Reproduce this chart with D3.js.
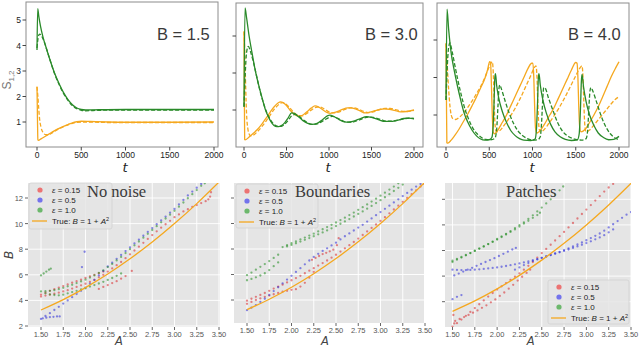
<!DOCTYPE html>
<html>
<head>
<meta charset="utf-8">
<script src="https://cdn.jsdelivr.net/npm/d3@7"></script>
<style>
  body { margin: 0; background: #fff; }
  svg { font-family: "Liberation Sans", Arial, sans-serif; }
</style>
</head>
<body>
<svg id="chart" width="640" height="347"></svg>
<script>
// ---- time series (top row), [t, S] ----
const timeTicks = [0, 500, 1000, 1500, 2000];

const b15GreenSolid = [[0,3.82],[8,5.45],[20,5.15],[40,4.75],[70,4.3],[100,3.95],[150,3.4],[200,2.9],[250,2.5],[300,2.15],[350,1.88],[400,1.68],[450,1.55],[500,1.49],[550,1.47],[700,1.48],[1000,1.49],[1500,1.49],[2000,1.49]];
const b15GreenDash  = [[0,3.9],[15,4.35],[30,4.45],[50,4.38],[70,4.25],[100,3.95],[150,3.4],[200,2.88],[250,2.47],[300,2.12],[350,1.85],[400,1.64],[450,1.52],[500,1.46],[550,1.44],[700,1.46],[1000,1.47],[1500,1.47],[2000,1.47]];
const b15OrangeSolid = [[0,2.38],[5,1.2],[10,0.3],[15,0.28],[50,0.35],[100,0.45],[150,0.56],[200,0.66],[250,0.75],[300,0.83],[350,0.9],[400,0.97],[450,1.01],[500,1.03],[600,1.02],[800,1.0],[1000,0.99],[1500,0.99],[2000,1.0]];
const b15OrangeDash  = [[0,2.38],[10,2.0],[20,1.5],[30,1.1],[45,0.8],[70,0.58],[100,0.5],[130,0.5],[170,0.57],[200,0.64],[250,0.74],[300,0.82],[350,0.89],[400,0.95],[450,0.99],[500,1.0],[600,1.0],[800,0.98],[1000,0.98],[1500,0.98],[2000,0.98]];

const b30GreenSolid = [[0,1.09],[12,3.76],[30,3.5],[60,3.0],[90,2.6],[130,2.1],[170,1.7],[210,1.35],[250,1.02],[290,0.8],[330,0.64],[370,0.56],[405,0.55],[440,0.58],[480,0.66],[520,0.79],[560,0.92],[590,0.91],[630,0.84],[690,0.72],[750,0.64],[800,0.61],[860,0.64],[920,0.73],[980,0.84],[1010,0.86],[1060,0.82],[1120,0.74],[1180,0.68],[1230,0.67],[1290,0.7],[1370,0.77],[1440,0.82],[1500,0.8],[1580,0.74],[1660,0.69],[1720,0.69],[1800,0.72],[1880,0.77],[1940,0.78],[2000,0.76]];
const b30GreenDash  = [[0,1.09],[15,2.0],[30,2.55],[50,2.72],[80,2.55],[110,2.3],[150,1.9],[190,1.5],[230,1.18],[270,0.92],[310,0.74],[350,0.62],[400,0.56],[440,0.56],[480,0.62],[520,0.72],[560,0.84],[600,0.88],[640,0.84],[700,0.73],[760,0.64],[820,0.61],[880,0.64],[940,0.72],[1000,0.8],[1040,0.83],[1090,0.79],[1150,0.72],[1210,0.67],[1270,0.67],[1330,0.71],[1400,0.77],[1460,0.81],[1520,0.8],[1600,0.75],[1680,0.7],[1740,0.7],[1820,0.73],[1900,0.77],[1960,0.78],[2000,0.77]];
const b30OrangeSolid = [[0,3.12],[4,1.5],[8,0.2],[12,0.19],[60,0.27],[110,0.37],[160,0.48],[210,0.62],[260,0.78],[310,0.95],[360,1.1],[400,1.19],[430,1.22],[460,1.2],[500,1.12],[540,1.0],[590,0.89],[630,0.84],[680,0.85],[740,0.95],[790,1.05],[835,1.11],[880,1.08],[930,1.0],[980,0.93],[1015,0.91],[1080,0.94],[1150,1.01],[1220,1.06],[1260,1.06],[1310,1.03],[1370,0.97],[1425,0.92],[1480,0.94],[1540,0.98],[1610,1.02],[1650,1.03],[1710,1.02],[1770,0.99],[1840,0.95],[1910,0.96],[2000,1.0]];
const b30OrangeDash  = [[0,3.12],[10,2.5],[20,1.6],[30,0.9],[45,0.5],[60,0.35],[80,0.3],[110,0.32],[160,0.42],[210,0.55],[260,0.7],[310,0.87],[360,1.03],[410,1.15],[450,1.2],[490,1.17],[530,1.08],[580,0.95],[630,0.86],[680,0.84],[740,0.91],[800,1.01],[860,1.08],[900,1.08],[950,1.02],[1000,0.95],[1050,0.92],[1110,0.94],[1180,1.01],[1250,1.06],[1300,1.06],[1350,1.02],[1410,0.96],[1460,0.93],[1520,0.95],[1590,1.01],[1660,1.04],[1720,1.04],[1780,1.01],[1850,0.97],[1920,0.96],[2000,0.99]];

const b40GreenSolid = [[0,1.4],[12,3.82],[30,3.3],[60,2.65],[90,2.25],[130,1.8],[170,1.4],[210,1.05],[250,0.82],[300,0.6],[350,0.45],[400,0.36],[450,0.33],[500,0.34],[530,0.4],[545,0.7],[555,1.3],[565,2.0],[572,2.1],[585,1.8],[610,1.45],[650,1.1],[700,0.8],[750,0.58],[800,0.45],[850,0.37],[900,0.33],[980,0.32],[1030,0.36],[1045,0.6],[1058,1.3],[1068,2.0],[1075,2.1],[1090,1.8],[1120,1.4],[1160,1.05],[1210,0.75],[1260,0.55],[1320,0.42],[1380,0.35],[1450,0.32],[1520,0.34],[1540,0.5],[1555,1.2],[1565,1.9],[1573,2.08],[1590,1.75],[1620,1.35],[1660,1.0],[1710,0.72],[1760,0.52],[1820,0.4],[1880,0.34],[1940,0.35],[2000,0.43]];
const b40GreenDash  = [[0,1.4],[15,2.3],[30,2.8],[45,2.92],[70,2.7],[100,2.35],[140,1.9],[180,1.5],[220,1.15],[260,0.9],[310,0.65],[360,0.5],[410,0.4],[460,0.35],[520,0.34],[565,0.38],[585,0.6],[600,1.2],[612,1.7],[622,1.8],[640,1.7],[680,1.4],[730,1.05],[780,0.78],[830,0.58],[880,0.46],[940,0.37],[1000,0.33],[1060,0.34],[1090,0.42],[1105,0.8],[1118,1.4],[1130,1.73],[1145,1.72],[1185,1.45],[1240,1.1],[1290,0.8],[1350,0.56],[1420,0.42],[1500,0.35],[1570,0.33],[1620,0.37],[1638,0.6],[1652,1.2],[1665,1.65],[1676,1.73],[1695,1.65],[1740,1.35],[1790,1.0],[1840,0.72],[1900,0.5],[1960,0.38],[2000,0.34]];
const b40OrangeSolid = [[0,2.91],[5,1.5],[10,0.26],[20,0.25],[60,0.33],[100,0.45],[150,0.62],[200,0.82],[250,1.02],[300,1.24],[350,1.47],[400,1.72],[450,1.98],[480,2.2],[505,2.42],[515,2.4],[525,1.8],[535,1.0],[545,0.55],[560,0.5],[600,0.6],[650,0.8],[700,1.0],[750,1.25],[800,1.5],[850,1.75],[900,2.0],[950,2.25],[990,2.38],[1005,2.38],[1015,2.0],[1025,1.2],[1035,0.65],[1050,0.52],[1100,0.62],[1150,0.8],[1200,1.0],[1250,1.2],[1300,1.45],[1350,1.7],[1400,1.95],[1450,2.2],[1500,2.4],[1515,2.38],[1525,2.0],[1535,1.2],[1545,0.7],[1560,0.55],[1610,0.62],[1660,0.8],[1710,1.0],[1760,1.22],[1810,1.48],[1860,1.75],[1910,2.02],[1960,2.25],[2000,2.42]];
const b40OrangeDash  = [[0,2.91],[15,2.3],[30,1.7],[45,1.25],[60,1.0],[80,0.9],[110,0.88],[160,0.95],[220,1.1],[280,1.3],[340,1.52],[400,1.76],[450,2.0],[490,2.24],[520,2.38],[535,2.42],[547,2.1],[557,1.3],[567,0.75],[582,0.55],[620,0.58],[680,0.75],[740,0.95],[800,1.18],[860,1.45],[920,1.75],[980,2.05],[1020,2.26],[1040,2.31],[1052,2.0],[1062,1.3],[1072,0.75],[1087,0.55],[1130,0.6],[1190,0.78],[1250,0.98],[1310,1.2],[1370,1.45],[1430,1.72],[1490,2.0],[1545,2.24],[1572,2.31],[1584,2.0],[1594,1.3],[1604,0.75],[1618,0.55],[1660,0.6],[1720,0.76],[1780,0.93],[1840,1.1],[1900,1.27],[1950,1.4],[2000,1.49]];

// ---- inferred relation (bottom row), [A, B] ----
const aTicks = [1.5, 1.75, 2.0, 2.25, 2.5, 2.75, 3.0, 3.25, 3.5];
const bTicks = [2, 4, 6, 8, 10, 12];
const trueA = [1.5, 1.75, 2.0, 2.25, 2.5, 2.75, 3.0, 3.25, 3.5];
const trueB = [3.25, 4.06, 5.0, 6.06, 7.25, 8.56, 10.0, 11.56, 13.25];
const epsLabels = ["0.15", "0.5", "1.0"];

const noNoiseRed = [
  [[1.50,4.45],[1.55,4.6],[1.60,4.75],[1.65,4.88],[1.70,5.0],[1.75,5.12],[1.80,5.25],[1.85,5.38],[1.90,5.5],[1.95,5.62],[2.00,5.75],[2.05,5.88],[2.10,6.0],[2.15,6.12],[2.20,6.25]],
  [[1.50,4.3],[1.55,4.38],[1.60,4.45],[1.65,4.52],[1.70,4.6],[1.75,4.7],[1.80,4.8],[1.85,4.92],[1.90,5.05],[1.95,5.18],[2.00,5.3],[2.05,5.45],[2.10,5.6],[2.15,5.8],[2.20,6.0],[2.25,6.25],[2.30,6.5],[2.35,6.75],[2.40,7.0],[2.45,7.3],[2.50,7.6],[2.55,7.9],[2.60,8.2],[2.65,8.5],[2.70,8.8],[2.75,9.1],[2.80,9.4],[2.85,9.68],[2.90,9.95],[2.95,10.22],[3.00,10.5],[3.05,10.72],[3.10,10.95],[3.15,11.12],[3.20,11.3],[3.25,11.45],[3.30,11.6],[3.35,11.75],[3.38,11.9]],
  [[2.15,4.9],[2.20,5.05],[2.25,5.2],[2.30,5.35],[2.35,5.5],[2.40,5.7],[2.45,5.9]],
  [[2.52,6.3],[3.40,12.1],[3.41,12.45]]
];
const noNoiseBlue = [
  [[1.50,2.55],[1.55,2.78],[1.60,3.0],[1.65,3.25],[1.70,3.5],[1.75,3.75],[1.80,4.0],[1.85,4.25],[1.90,4.5],[1.95,4.75],[2.00,5.0],[2.05,5.3],[2.10,5.6],[2.15,5.95],[2.20,6.3],[2.25,6.65],[2.30,6.95],[2.35,7.25],[2.40,7.55],[2.45,7.85],[2.50,8.15],[2.55,8.45],[2.60,8.75],[2.65,9.05],[2.70,9.35],[2.75,9.65],[2.80,9.95],[2.85,10.25],[2.90,10.55],[2.95,10.85],[3.00,11.15],[3.05,11.5],[3.10,11.85],[3.15,12.2],[3.20,12.5],[3.25,12.8],[3.30,13.1]],
  [[1.52,2.6],[1.56,2.65],[1.60,2.7],[1.64,2.72],[1.68,2.75],[1.71,2.75]],
  [[1.96,6.6],[1.99,7.8]]
];
const noNoiseGreen = [
  [[1.50,5.95],[1.53,6.1],[1.56,6.25],[1.59,6.4],[1.61,6.48]],
  [[1.50,4.7],[1.55,4.72],[1.60,4.75],[1.65,4.8],[1.70,4.88],[1.75,4.98],[1.80,5.1],[1.85,5.22],[1.90,5.35],[1.95,5.48],[2.00,5.62],[2.05,5.78],[2.10,5.95],[2.15,6.15],[2.20,6.35],[2.25,6.6],[2.30,6.85],[2.35,7.12],[2.40,7.4],[2.45,7.7],[2.50,8.0],[2.55,8.3],[2.60,8.6],[2.65,8.9],[2.70,9.2],[2.75,9.5],[2.80,9.8],[2.85,10.1],[2.90,10.4],[2.95,10.7],[3.00,11.0],[3.05,11.32],[3.10,11.65],[3.15,11.98],[3.20,12.3],[3.25,12.62],[3.30,12.95],[3.34,13.15]],
  [[1.55,4.55],[1.60,4.47],[1.65,4.42],[1.70,4.4],[1.75,4.45],[1.80,4.55],[1.85,4.65],[1.90,4.75],[1.95,4.85],[2.00,4.95],[2.05,5.08],[2.10,5.2],[2.15,5.32],[2.20,5.45],[2.25,5.6],[2.30,5.75],[2.35,5.92],[2.40,6.1]]
];

const boundRed = [
  [[1.50,3.95],[1.55,4.1],[1.60,4.25],[1.65,4.4],[1.70,4.55],[1.75,4.72],[1.80,4.9],[1.85,5.05],[1.90,5.2],[1.95,5.38],[2.00,5.55],[2.05,5.72],[2.10,5.9],[2.15,6.1],[2.20,6.3],[2.25,6.5],[2.30,6.7],[2.35,6.9],[2.40,7.1],[2.45,7.32],[2.50,7.55],[2.55,7.8],[2.60,8.05],[2.65,8.3],[2.70,8.55],[2.75,8.82],[2.80,9.1],[2.85,9.38],[2.90,9.65],[2.95,9.92],[3.00,10.2],[3.05,10.5],[3.10,10.8],[3.15,11.1],[3.20,11.4],[3.25,11.7],[3.30,12.0],[3.35,12.3],[3.40,12.6],[3.45,12.9],[3.49,13.1]],
  [[1.50,3.7],[1.55,3.85],[1.60,4.0],[1.65,4.12],[1.70,4.25],[1.75,4.35],[1.80,4.45],[1.85,4.55],[1.90,4.65],[1.95,4.72],[2.00,4.8],[2.05,4.85],[2.10,5.05],[2.15,5.35],[2.20,5.75],[2.25,6.2]],
  [[2.23,7.15],[2.27,7.3],[2.31,7.45],[2.35,7.6],[2.39,7.7],[2.43,7.82],[2.47,7.95],[2.51,8.3],[2.53,8.85]]
];
const boundBlue = [
  [[1.50,3.2],[1.55,3.4],[1.60,3.6],[1.65,3.85],[1.70,4.1],[1.75,4.4],[1.80,4.7],[1.85,5.0],[1.90,5.3],[1.95,5.6],[2.00,5.9],[2.05,6.2],[2.10,6.5],[2.15,6.8],[2.20,7.1],[2.25,7.38],[2.30,7.62],[2.35,7.85],[2.40,8.05],[2.45,8.28],[2.50,8.5],[2.55,8.75],[2.60,9.0],[2.65,9.22],[2.70,9.45],[2.75,9.68],[2.80,9.9],[2.85,10.15],[2.90,10.4],[2.95,10.65],[3.00,10.9],[3.05,11.15],[3.10,11.4],[3.15,11.65],[3.20,11.9],[3.25,12.15],[3.30,12.4],[3.35,12.65],[3.40,12.9],[3.45,13.1]]
];
const boundGreen = [
  [[1.50,5.95],[1.55,6.15],[1.60,6.38],[1.65,6.6],[1.70,6.82],[1.75,7.05],[1.80,7.3],[1.85,7.55]],
  [[1.50,5.55],[1.55,5.65],[1.60,5.78],[1.65,5.92],[1.70,6.1],[1.75,6.35],[1.80,6.65],[1.85,6.95]],
  [[1.90,8.15],[1.95,8.3],[2.00,8.45],[2.05,8.6],[2.10,8.75],[2.15,8.9],[2.20,9.05],[2.25,9.2],[2.30,9.38],[2.35,9.55],[2.40,9.72],[2.45,9.9],[2.50,10.08],[2.55,10.27],[2.60,10.46],[2.65,10.66],[2.70,10.86],[2.75,11.07],[2.80,11.28],[2.85,11.5],[2.90,11.72],[2.95,11.95],[3.00,12.18],[3.05,12.42],[3.10,12.66],[3.15,12.9],[3.20,13.15]],
  [[1.95,8.2],[2.00,8.32],[2.05,8.45],[2.10,8.58],[2.15,8.72],[2.20,8.86],[2.25,9.0],[2.30,9.15],[2.35,9.3],[2.40,9.46],[2.45,9.62],[2.50,9.8],[2.55,9.98],[2.60,10.16],[2.65,10.35],[2.70,10.55],[2.75,10.75],[2.80,10.95],[2.85,11.16],[2.90,11.38],[2.95,11.6],[3.00,11.83],[3.05,12.06],[3.10,12.3],[3.15,12.55],[3.20,12.8],[3.25,13.05]]
];

const patchRed = [
  [[1.50,2.05],[1.55,2.32],[1.60,2.6],[1.65,2.9],[1.70,3.2],[1.75,3.5],[1.80,3.8],[1.85,4.1],[1.90,4.4],[1.95,4.68],[2.00,4.95],[2.05,5.2],[2.10,5.45],[2.15,5.7],[2.20,5.95],[2.25,6.22],[2.30,6.5],[2.35,6.8],[2.40,7.1],[2.45,7.45],[2.50,7.8],[2.55,8.12],[2.60,8.45],[2.65,8.78],[2.70,9.12],[2.75,9.45],[2.80,9.8],[2.85,10.15],[2.90,10.5],[2.95,10.85],[3.00,11.2],[3.05,11.55],[3.10,11.9],[3.15,12.25],[3.20,12.6],[3.25,12.92],[3.30,13.2]],
  [[1.53,2.5],[1.58,2.65],[1.63,2.8],[1.68,2.97],[1.73,3.14],[1.78,3.32],[1.83,3.52],[1.88,3.72],[1.93,3.95],[1.98,4.18],[2.03,4.45],[2.08,4.72],[2.13,5.02],[2.18,5.32],[2.23,5.65],[2.28,5.95],[2.33,6.25],[2.37,6.5]],
  [[1.51,2.96],[1.52,2.3]]
];
const patchBlue = [
  [[1.52,6.05],[1.57,6.2],[1.62,6.35],[1.67,6.5],[1.72,6.65],[1.77,6.8],[1.82,6.95],[1.87,7.1],[1.92,7.25],[1.97,7.4],[2.02,7.57],[2.07,7.74],[2.12,7.91],[2.17,8.08],[2.21,8.2]],
  [[1.50,6.5],[1.55,6.48],[1.60,6.47],[1.65,6.47],[1.70,6.48],[1.75,6.5],[1.80,6.53],[1.85,6.56],[1.90,6.6],[1.95,6.64],[2.00,6.68],[2.05,6.73],[2.10,6.79],[2.15,6.85],[2.20,6.92],[2.25,6.99],[2.30,7.07],[2.35,7.15],[2.40,7.24],[2.45,7.33],[2.50,7.43],[2.55,7.54],[2.60,7.65],[2.65,7.77],[2.70,7.9],[2.75,8.03],[2.80,8.17],[2.85,8.32],[2.90,8.47],[2.95,8.63],[3.00,8.8],[3.05,8.97],[3.10,9.15],[3.15,9.33],[3.20,9.55],[3.25,9.8],[3.30,10.05],[3.35,10.3],[3.40,10.55],[3.45,10.8],[3.50,11.0]],
  [[2.20,6.5],[2.25,6.68],[2.30,6.86],[2.35,7.02],[2.40,7.17],[2.45,7.3],[2.50,7.42],[2.55,7.53],[2.60,7.64],[2.65,7.75],[2.70,7.86],[2.75,7.97],[2.80,8.08],[2.85,8.2],[2.90,8.32],[2.95,8.45],[3.00,8.58],[3.05,8.72],[3.10,8.87],[3.15,9.02],[3.20,9.2],[3.25,9.42],[3.30,9.65]],
  [[1.50,4.2],[1.55,4.38],[1.60,4.52]]
];
const patchGreen = [
  [[1.50,7.1],[1.55,7.28],[1.60,7.45],[1.65,7.62],[1.70,7.8],[1.75,7.98],[1.80,8.15],[1.85,8.32],[1.90,8.5],[1.95,8.7],[2.00,8.9],[2.05,9.1],[2.10,9.3],[2.15,9.52],[2.20,9.75],[2.25,9.98],[2.30,10.2],[2.35,10.47],[2.40,10.75],[2.45,11.05],[2.50,11.35],[2.55,11.68],[2.60,12.0],[2.65,12.35],[2.70,12.7],[2.74,13.0]],
  [[1.50,7.2],[1.55,7.35],[1.60,7.5],[1.65,7.65],[1.70,7.8],[1.75,7.97],[1.80,8.15],[1.85,8.32],[1.90,8.5],[1.95,8.67],[2.00,8.85],[2.05,9.05],[2.10,9.25],[2.15,9.45],[2.20,9.65],[2.25,9.87],[2.30,10.1],[2.35,10.32],[2.40,10.55],[2.45,10.77],[2.48,10.95]]
];

const svg = d3.select("#chart");
const GREEN = "#2a8a2a", ORANGE = "#f5a81f";
const MATH = "'DejaVu Sans', sans-serif", SERIF = "'Liberation Serif', 'Times New Roman', serif";

// ---------------- top row ----------------
const topPanels = [
  {name: "B = 1.5", frame: [26, 2, 218, 147], xr: [37, 214], yd: [1, 5], yr: [122, 20], yTicks: [1,2,3,4,5], yLabels: true, labelX: 157, tX: 125,
   gs: b15GreenSolid, gd: b15GreenDash, os: b15OrangeSolid, od: b15OrangeDash},
  {name: "B = 3.0", frame: [236, 3, 423, 147], xr: [244, 414], yd: [1, 3], yr: [110, 36], yTicks: [1,2,3], yLabels: false, labelX: 365, tX: 328,
   gs: b30GreenSolid, gd: b30GreenDash, os: b30OrangeSolid, od: b30OrangeDash},
  {name: "B = 4.0", frame: [437, 3, 629, 147], xr: [446, 619], yd: [1, 3], yr: [115, 40], yTicks: [1,2,3], yLabels: false, labelX: 568, tX: 532,
   gs: b40GreenSolid, gd: b40GreenDash, os: b40OrangeSolid, od: b40OrangeDash}
];

topPanels.forEach(function(p, i) {
  let [x0, y0, x1, y1] = p.frame;
  let x = d3.scaleLinear().domain([0, 2000]).range(p.xr);
  let y = d3.scaleLinear().domain(p.yd).range(p.yr);
  let g = svg.append("g");

  g.append("clipPath").attr("id", "tclip" + i)
    .append("rect").attr("x", x0).attr("y", y0).attr("width", x1 - x0).attr("height", y1 - y0);

  let line = d3.line().x(d => x(d[0])).y(d => y(d[1])).curve(d3.curveMonotoneX);
  let lines = g.append("g").attr("clip-path", "url(#tclip" + i + ")");
  [[p.os, ORANGE, null], [p.od, ORANGE, "4,2"], [p.gs, GREEN, null], [p.gd, GREEN, "4,2"]].forEach(function(s) {
    lines.append("path").datum(s[0]).attr("d", line)
      .attr("fill", "none").attr("stroke", s[1]).attr("stroke-width", 1.3)
      .attr("stroke-dasharray", s[2]);
  });

  g.append("rect").attr("x", x0).attr("y", y0).attr("width", x1 - x0).attr("height", y1 - y0)
    .attr("fill", "none").attr("stroke", "#8c8c8c").attr("stroke-width", 1);

  timeTicks.forEach(function(t) {
    g.append("line").attr("x1", x(t)).attr("x2", x(t)).attr("y1", y1).attr("y2", y1 + 3.5).attr("stroke", "#444");
    g.append("text").attr("x", x(t)).attr("y", y1 + 11).attr("text-anchor", "middle")
      .attr("font-size", 8.5).attr("fill", "#222").text(t);
  });
  p.yTicks.forEach(function(v) {
    g.append("line").attr("x1", x0 - 3.5).attr("x2", x0).attr("y1", y(v)).attr("y2", y(v)).attr("stroke", "#444");
    if (p.yLabels) {
      g.append("text").attr("x", x0 - 5).attr("y", y(v) + 3).attr("text-anchor", "end")
        .attr("font-size", 8.5).attr("fill", "#222").text(v);
    }
  });

  g.append("text").attr("x", p.labelX).attr("y", 40).attr("font-size", 16.5).attr("fill", "#3a3a3a").text(p.name);
  g.append("text").attr("x", p.tX).attr("y", 172).attr("text-anchor", "middle")
    .style("font-family", MATH).style("font-style", "italic").attr("font-size", 13).attr("fill", "#222").text("t");
});

let sLab = svg.append("text").attr("transform", "translate(11,80) rotate(-90)").attr("text-anchor", "middle")
  .attr("font-size", 12).attr("fill", "#777");
sLab.append("tspan").text("S");
sLab.append("tspan").attr("font-size", 8).attr("dy", 3).text("1,2");

// ---------------- bottom row ----------------
const bottomPanels = [
  {title: "No noise", titleX: 87, box: [28, 183, 220, 327], xr: [41, 219], yd: [2, 12], yr: [326, 198], yLabels: true,
   red: noNoiseRed, blue: noNoiseBlue, green: noNoiseGreen, legend: [29, 183, 83, 46]},
  {title: "Boundaries", titleX: 295, box: [234, 183, 424, 323], xr: [247, 425], yd: [4, 12], yr: [300, 198], yLabels: false,
   red: boundRed, blue: boundBlue, green: boundGreen, legend: [236, 184, 82, 44]},
  {title: "Patches", titleX: 506, box: [445, 183, 631, 327], xr: [452.5, 631], yd: [4, 12], yr: [301.7, 199.3], yLabels: false,
   red: patchRed, blue: patchBlue, green: patchGreen, legend: [548, 280, 81, 44]}
];
const dotColors = {red: "#d8262a", blue: "#2a2ad8", green: "#1e8a1e"};
const legendColors = ["#ec7373", "#7373ec", "#6cb86c"];

bottomPanels.forEach(function(p, i) {
  let [x0, y0, x1, y1] = p.box;
  let x = d3.scaleLinear().domain([1.5, 3.5]).range(p.xr);
  let y = d3.scaleLinear().domain(p.yd).range(p.yr);
  let g = svg.append("g");

  g.append("clipPath").attr("id", "bclip" + i)
    .append("rect").attr("x", x0).attr("y", y0).attr("width", x1 - x0).attr("height", y1 - y0);
  g.append("rect").attr("x", x0).attr("y", y0).attr("width", x1 - x0).attr("height", y1 - y0).attr("fill", "#e5e5e5");

  aTicks.forEach(function(a) {
    if (x(a) >= x0 && x(a) <= x1) {
      g.append("line").attr("x1", x(a)).attr("x2", x(a)).attr("y1", y0).attr("y2", y1).attr("stroke", "#fff").attr("stroke-width", 0.9);
    }
    g.append("line").attr("x1", x(a)).attr("x2", x(a)).attr("y1", y1).attr("y2", y1 + 3).attr("stroke", "#666");
    g.append("text").attr("x", x(a)).attr("y", y1 + 9.5).attr("text-anchor", "middle")
      .attr("font-size", 7.5).attr("fill", "#555").text(a.toFixed(2));
  });
  bTicks.forEach(function(b) {
    if (y(b) < y0 || y(b) > y1) return;
    g.append("line").attr("x1", x0).attr("x2", x1).attr("y1", y(b)).attr("y2", y(b)).attr("stroke", "#fff").attr("stroke-width", 0.9);
    g.append("line").attr("x1", x0 - 3).attr("x2", x0).attr("y1", y(b)).attr("y2", y(b)).attr("stroke", "#666");
    if (p.yLabels) {
      g.append("text").attr("x", x0 - 5).attr("y", y(b) + 3).attr("text-anchor", "end")
        .attr("font-size", 7.5).attr("fill", "#555").text(b);
    }
  });

  let plot = g.append("g").attr("clip-path", "url(#bclip" + i + ")");
  ["red", "blue", "green"].forEach(function(key) {
    let pts = p[key].flat();
    plot.selectAll(null).data(pts).enter().append("circle")
      .attr("cx", d => x(d[0])).attr("cy", d => y(d[1])).attr("r", 1.15)
      .attr("fill", dotColors[key]).attr("fill-opacity", 0.55);
  });
  let tl = d3.line().x((d, j) => x(trueA[j])).y(d => y(d)).curve(d3.curveMonotoneX);
  plot.append("path").datum(trueB).attr("d", tl).attr("fill", "none").attr("stroke", ORANGE).attr("stroke-width", 1.3);

  // legend
  let [lx, ly, lw, lh] = p.legend;
  let lg = g.append("g");
  lg.append("rect").attr("x", lx).attr("y", ly).attr("width", lw).attr("height", lh).attr("rx", 2)
    .attr("fill", "#e5e5e5").attr("fill-opacity", 0.85).attr("stroke", "#d2d2d2").attr("stroke-width", 0.8);
  epsLabels.forEach(function(e, j) {
    let cy = ly + 7 + j * 10;
    lg.append("circle").attr("cx", lx + 11).attr("cy", cy).attr("r", 2.6).attr("fill", legendColors[j]);
    let t = lg.append("text").attr("x", lx + 23).attr("y", cy + 3).attr("font-size", 8).attr("fill", "#222");
    t.append("tspan").style("font-style", "italic").text("ε");
    t.append("tspan").text(" = " + e);
  });
  let ry = ly + 38;
  lg.append("line").attr("x1", lx + 3).attr("x2", lx + 18).attr("y1", ry).attr("y2", ry).attr("stroke", ORANGE).attr("stroke-width", 1.3);
  let tt = lg.append("text").attr("x", lx + 23).attr("y", ry + 3).attr("font-size", 8).attr("fill", "#222");
  tt.append("tspan").text("True: ");
  tt.append("tspan").style("font-style", "italic").text("B");
  tt.append("tspan").text(" = 1 + ");
  tt.append("tspan").style("font-style", "italic").text("A");
  tt.append("tspan").attr("font-size", 5.5).attr("dy", -3).text("2");

  // panel title sits above the legend box
  g.append("text").attr("x", p.titleX).attr("y", 196.5).style("font-family", SERIF)
    .attr("font-size", 16.5).attr("fill", "#3a3a3a").text(p.title);

  // axis label between the 2.25 and 2.50 tick labels
  g.append("text").attr("x", x(2.375)).attr("y", 344.5).attr("text-anchor", "middle")
    .style("font-family", MATH).style("font-style", "italic").attr("font-size", 11.5).attr("fill", "#444").text("A");
});

svg.append("text").attr("transform", "translate(13,255) rotate(-90)").attr("text-anchor", "middle")
  .style("font-family", MATH).style("font-style", "italic").attr("font-size", 12).attr("fill", "#444").text("B");
</script>
</body>
</html>
